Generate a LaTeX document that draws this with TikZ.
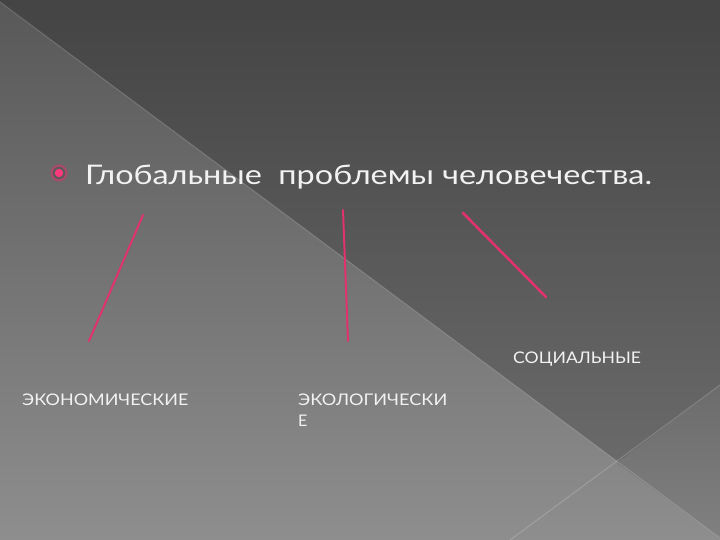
\documentclass[tikz,border=0pt]{standalone}
\usepackage{fontspec}
\setmainfont{Lato}
\definecolor{pinkln}{HTML}{E0326C}
\definecolor{pinkdot}{HTML}{FF3A7C}
\definecolor{txt}{HTML}{F2F2F2}
\definecolor{bgA}{HTML}{585858}
\definecolor{bgB}{HTML}{8E8E8E}
\definecolor{upA}{HTML}{444444}
\definecolor{upB}{HTML}{707070}
\definecolor{rwA}{HTML}{6C6C6C}
\definecolor{rwB}{HTML}{808080}
\definecolor{ringbg}{HTML}{5A5A5A}
\tikzset{
  conn/.style={draw=pinkln, line width=2pt, line cap=round},
  lbl/.style={text=txt, inner sep=0pt, font=\fontsize{16}{21}\selectfont, anchor=base west, align=left},
  ttl/.style={text=txt, inner sep=0pt, font=\fontsize{27}{30}\selectfont, anchor=base west},
  seam/.style={draw=white, draw opacity=0.18, line width=1pt}
}
\begin{document}
\begin{tikzpicture}[x=1pt,y=-1pt]
\useasboundingbox (0,0) rectangle (720,540);
% background
\shade[top color=bgA, bottom color=bgB] (0,0) rectangle (720,540);
\shade[top color=upA, bottom color=upB] (0,2) -- (0,0) -- (720,0) -- (720,538) -- cycle;
\shade[top color=rwA, bottom color=rwB] (720,385) -- (617,463) -- (720,538) -- cycle;
\draw[seam] (0,2) -- (720,538);
\draw[seam] (720,385) -- (510,540);
% bullet
\fill[pinkln, opacity=0.55] (59,173) circle (8.5);
\fill[ringbg] (59,173) circle (6.2);
\fill[pinkdot] (59,173) circle (4.2);
% title
\node[ttl] (title) at (85,185) {\scalebox{1.2}[1]{Глобальные\ \ проблемы человечества.}};
% labels
\node[lbl] (econ) at (22,405) {\scalebox{1.12}[1]{ЭКОНОМИЧЕСКИЕ}};
\node[lbl] (ecol) at (298,426) {\scalebox{1.13}[1]{ЭКОЛОГИЧЕСКИ}\\Е};
\node[lbl] (soc) at (513,363) {\scalebox{1.1}[1]{СОЦИАЛЬНЫЕ}};
% connector ends
\coordinate (a1) at (143,215);
\coordinate (a2) at (89,341);
\coordinate (b1) at (343,210);
\coordinate (b2) at (348,341);
\coordinate (c1) at (463,213);
\coordinate (c2) at (546,297);
\draw[conn] (a1) -- (a2);
\draw[conn] (b1) -- (b2);
\draw[conn, line width=2.6pt] (c1) -- (c2);
\end{tikzpicture}
\end{document}
